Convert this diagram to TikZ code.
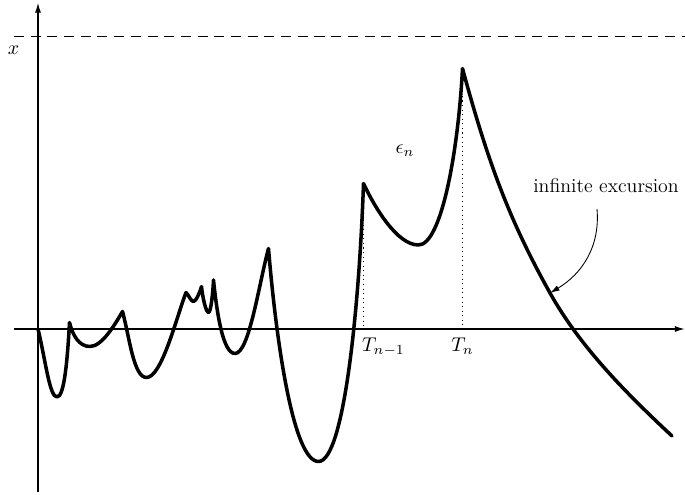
\RequirePackage{fix-cm}
\documentclass[tikz,border=0pt]{standalone}
\usepackage{amsmath}
\usepackage{amssymb}
\usepackage{tikz}
\usetikzlibrary{positioning, arrows.meta}
\tikzset{
  >=latex, % default arrow head
  axis/.style={line width=0.6pt,-{Latex[length=5.5,width=3.4]}},
  level/.style={line width=0.5pt,dash pattern=on 5.7pt off 3.8pt},
  walk/.style={line width=2pt,line join=round,line cap=round},
  guide/.style={line width=0.6pt,dotted},
  connect arrow/.style={-{Latex[length=5.5,width=3.2]},line width=0.5pt}
}

\begin{document}
\begin{tikzpicture}[every node/.style={font=\fontsize{11.3pt}{13.6pt}\selectfont}]
  \useasboundingbox (-0.76,-3.32) rectangle (12.94,6.58);

  % Axes and level x
  \coordinate (O) at (0,0);
  \coordinate (xl) at (-0.48,0);
  \coordinate (xr) at (12.93,0);
  \coordinate (yb) at (0,-3.26);
  \coordinate (yt) at (0,6.52);
  \draw[axis] (xl) -- (xr);
  \draw[axis] (yb) -- (yt);
  \coordinate (ll) at (-0.48,5.86);
  \coordinate (lr) at (12.94,5.86);
  \draw[level] (ll) -- (lr);
  \node (xlab) at (-0.49,5.58) {$x$};

  % Peaks at T_{n-1} and T_n
  \coordinate (pk7) at (6.51,2.91);
  \coordinate (pk8) at (8.49,5.21);
  \coordinate (t7) at (6.51,0);
  \coordinate (t8) at (8.49,0);
  \draw[guide] (pk7) -- (t7);
  \draw[guide] (pk8) -- (t8);

  % The path
  \coordinate (hit) at (10.24,0.72);
  \draw[walk] (O)
    .. controls (0.15,-0.62) and (0.23,-1.36) .. (0.38,-1.36)
    .. controls (0.53,-1.36) and (0.59,-0.58) .. (0.63,0.13)
    .. controls (0.695,-0.13) and (0.82,-0.35) .. (1.04,-0.35)
    .. controls (1.28,-0.35) and (1.54,0.09) .. (1.69,0.35)
    .. controls (1.83,-0.16) and (1.91,-0.97) .. (2.17,-0.97)
    .. controls (2.47,-0.97) and (2.76,0.20) .. (2.96,0.73)
    .. controls (3.02,0.67) and (3.06,0.55) .. (3.11,0.55)
    .. controls (3.16,0.55) and (3.24,0.74) .. (3.27,0.85)
    .. controls (3.29,0.64) and (3.36,0.33) .. (3.41,0.33)
    .. controls (3.46,0.33) and (3.50,0.75) .. (3.51,0.98)
    .. controls (3.58,0.30) and (3.70,-0.49) .. (3.94,-0.49)
    .. controls (4.22,-0.49) and (4.41,0.86) .. (4.61,1.61)
    .. controls (4.76,-0.20) and (5.10,-2.65) .. (5.61,-2.65)
    .. controls (6.13,-2.65) and (6.43,0.55) .. (pk7)
    .. controls (6.73,2.44) and (7.18,1.68) .. (7.61,1.68)
    .. controls (8.06,1.68) and (8.40,3.50) .. (pk8)
    .. controls (9.02,3.25) and (9.46,2.12) .. (hit)
    .. controls (10.85,-0.37) and (11.77,-1.29) .. (12.68,-2.14);

  % Labels
  \node[anchor=north west, inner sep=1pt, xshift=-2pt, yshift=-4pt] (tlast) at (t7) {$T_{n-1}$};
  \node[anchor=north, inner sep=1pt, yshift=-4pt] (tn) at (t8) {$T_n$};
  \node (eps) at (7.34,3.56) {$\epsilon_n$};
  \node (exc) at (11.36,2.86) {infinite excursion};

  \coordinate (start) at (11.18,2.40);
  \draw[connect arrow] (start) to[out=-85,in=31] (hit);

\end{tikzpicture}
\end{document}
